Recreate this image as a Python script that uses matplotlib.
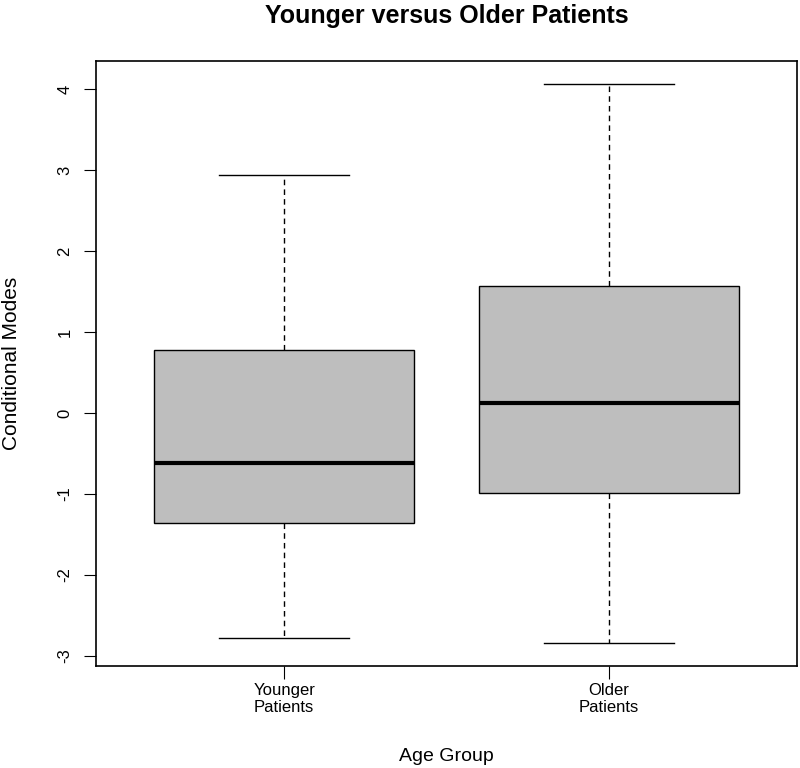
import matplotlib.pyplot as plt

plt.rcParams['font.family'] = ['Liberation Sans', 'DejaVu Sans']

# Resumen de cada grupo
groups = ["Younger\nPatients", "Older\nPatients"]
whislo = [-2.78, -2.84]
q1 = [-1.36, -0.99]
med = [-0.62, 0.12]
q3 = [0.78, 1.57]
whishi = [2.94, 4.06]
yticks = [-3, -2, -1, 0, 1, 2, 3, 4]

stats = []
for i in range(len(groups)):
    stats.append({"label": groups[i], "whislo": whislo[i], "q1": q1[i],
                  "med": med[i], "q3": q3[i], "whishi": whishi[i], "fliers": []})

fig = plt.figure(figsize=(8, 7.68), dpi=100)
ax = fig.add_axes([0.12, 0.1328, 0.87625, 0.7878])

ax.bxp(stats, positions=[1, 2], widths=0.8, patch_artist=True,
       showfliers=False, capwidths=0.4,
       boxprops=dict(facecolor="#bebebe", edgecolor="black", linewidth=1),
       medianprops=dict(color="black", linewidth=3),
       whiskerprops=dict(color="black", linestyle=(0, (4, 3)), linewidth=1),
       capprops=dict(color="black", linewidth=1))

ax.set_xlim(0.42, 2.58)
ax.set_ylim(-3.123, 4.346)
ax.set_yticks(yticks)
ax.set_yticklabels([str(v) for v in yticks], rotation=90, va="center", fontsize=12)
ax.tick_params(axis="x", labelsize=12, length=9, pad=3)
ax.tick_params(axis="y", length=9, pad=8)
for s in ax.spines.values():
    s.set_linewidth(1.2)

ax.set_title("Younger versus Older Patients", fontsize=18, fontweight="bold", pad=27)
ax.set_xlabel("Age Group", fontsize=14, labelpad=24)
ax.set_ylabel("Conditional Modes", fontsize=15, labelpad=26)

fig.savefig("out.png", dpi=100)
